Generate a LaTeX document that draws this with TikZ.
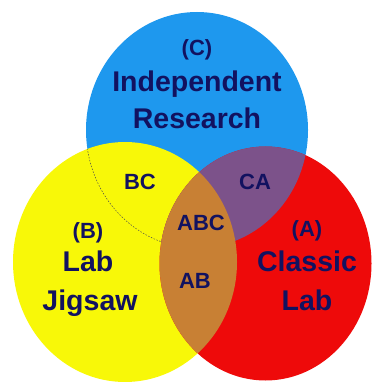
\documentclass[tikz,border=0pt]{standalone}
\usepackage{fontspec}
\setmainfont{Liberation Sans}
\definecolor{cblue}{RGB}{30,152,238}
\definecolor{byellow}{RGB}{248,248,8}
\definecolor{ared}{RGB}{238,10,10}
\definecolor{capurple}{RGB}{124,82,138}
\definecolor{aborange}{RGB}{200,128,52}
\definecolor{navy}{RGB}{18,18,96}
\tikzset{
  big/.style={text=navy,anchor=base,inner sep=0pt,font=\fontsize{28.5}{30}\selectfont\bfseries},
  small/.style={text=navy,anchor=base,inner sep=0pt,font=\fontsize{22}{24}\selectfont\bfseries},
}
\begin{document}
\begin{tikzpicture}[x=1pt,y=-1pt]
\useasboundingbox (0,0) rectangle (372,382);
\clip (0,0) rectangle (372,382);
% circles
\def\Cpath{(197,130) ellipse [x radius=111pt, y radius=118pt]}
\def\Bpath{(125,262) ellipse [x radius=112pt, y radius=120pt]}
\def\Apath{(265.5,263.5) ellipse [x radius=106pt, y radius=117pt]}
\fill[cblue] \Cpath;
\fill[byellow] \Bpath;
\begin{scope}
  \clip \Bpath;
  \draw[gray!60!black, line width=0.5pt, dash pattern=on 1.5pt off 1.5pt] \Cpath;
\end{scope}
\fill[ared] \Apath;
\begin{scope}
  \clip \Apath;
  \fill[capurple] \Cpath;
  \fill[aborange] \Bpath;
\end{scope}
% labels
\node[small] (cl) at (197,56) {(C)};
\node[big] (ind) at (197,92) {Independent};
\node[big] (res) at (197,129) {Research};
\node[small] (bc) at (140,189) {BC};
\node[small] (ca) at (255,189) {CA};
\node[small] (abc) at (201,230) {ABC};
\node[small] (ab) at (195,288) {AB};
\node[small] (bl) at (88,238) {(B)};
\node[big] (lab1) at (88,271) {Lab};
\node[big] (jig) at (90,310) {Jigsaw};
\node[small] (al) at (307,236) {(A)};
\node[big] (cls) at (307,271) {Classic};
\node[big] (lab2) at (307,310) {Lab};
\end{tikzpicture}
\end{document}
